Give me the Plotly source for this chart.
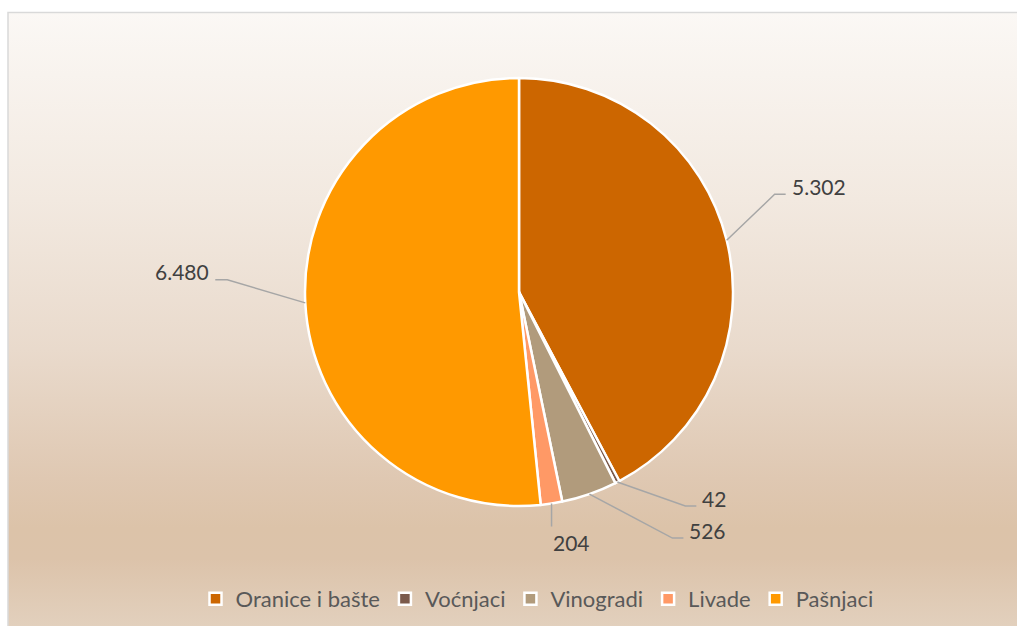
import base64
import math
import plotly.graph_objects as go

# ---- data ----
categories = ["Oranice i bašte", "Voćnjaci", "Vinogradi", "Livade", "Pašnjaci"]
values = [5302, 42, 526, 204, 6480]
colors = ["#CC6600", "#7B5A4B", "#B19B7C", "#FF9966", "#FF9900"]

# ---- layout constants (page pixels) ----
W, H = 1017, 626
OFF = 0  # body margin removed via post_script
CX, CY, R = 519, 292, 214
# leader-line geometry per slice: elbow offset from slice edge, then horizontal tail
elbow_dx = [48, 68, 83, 0, -78]
elbow_dy = [-46, 24, 44, 23, -23]
tail_len = [11, 11, 11, 0, -12]

def px(x):
    return (x - OFF) / W

def py(y):
    return 1 - (y - OFF) / H

fig = go.Figure()
fig.add_trace(go.Pie(
    labels=categories,
    values=values,
    sort=False,
    direction="clockwise",
    rotation=0,
    textinfo="none",
    hoverinfo="label+value",
    marker=dict(colors=colors, line=dict(color="#FFFFFF", width=2.5)),
    domain=dict(x=[px(CX - R), px(CX + R)], y=[py(CY + R), py(CY - R)]),
    showlegend=True,
))

# ---- data labels with leader lines, placed from the slice angles ----
total = sum(values)
cum = 0
shapes = []
annotations = []
for i, v in enumerate(values):
    mid = 2 * math.pi * (cum + v / 2) / total
    cum += v
    ex = CX + R * math.sin(mid)
    ey = CY - R * math.cos(mid)
    bx = ex + elbow_dx[i]
    by = ey + elbow_dy[i]
    tx = bx + tail_len[i]
    shapes.append(dict(
        type="path", xref="paper", yref="paper",
        path=f"M{px(ex)},{py(ey)} L{px(bx)},{py(by)} L{px(tx)},{py(by)}",
        line=dict(color="#A6A6A6", width=1.5), layer="above",
    ))
    label = f"{v:,}".replace(",", ".")
    if tail_len[i] > 0:
        ann = dict(x=px(tx + 4), y=py(by - 8), xanchor="left", yanchor="middle")
    elif tail_len[i] < 0:
        ann = dict(x=px(tx - 4), y=py(by - 8), xanchor="right", yanchor="middle")
    else:
        ann = dict(x=px(tx - 1), y=py(by + 1), xanchor="left", yanchor="top")
    ann.update(xref="paper", yref="paper", text=label, showarrow=False,
               font=dict(family="Lato", size=21, color="#404040"))
    annotations.append(ann)

# ---- gradient chart-area background with border ----
svg = f'''<svg xmlns="http://www.w3.org/2000/svg" width="{W}" height="{H}" viewBox="0 0 {W} {H}" preserveAspectRatio="none">
<defs><linearGradient id="g" gradientUnits="userSpaceOnUse" x1="0" y1="12" x2="0" y2="626">
<stop offset="0" stop-color="#FBF8F5"/>
<stop offset="0.306" stop-color="#F2E9E0"/>
<stop offset="0.55" stop-color="#E9DACC"/>
<stop offset="0.76" stop-color="#DFC8B2"/>
<stop offset="0.84" stop-color="#DCC3A9"/>
<stop offset="0.89" stop-color="#DCC3AA"/>
<stop offset="1" stop-color="#E2D0BD"/>
</linearGradient></defs>
<rect x="8" y="12.5" width="1020" height="650" fill="url(#g)" stroke="#D9D9D9" stroke-width="1.5"/>
</svg>'''
src = "data:image/svg+xml;base64," + base64.b64encode(svg.encode()).decode()

fig.update_layout(
    width=W, height=H,
    margin=dict(l=0, r=0, t=0, b=0),
    paper_bgcolor="#FFFFFF",
    font=dict(family="Lato", color="#595959"),
    images=[dict(source=src, xref="paper", yref="paper", x=0, y=1,
                 sizex=1, sizey=1, sizing="stretch", xanchor="left",
                 yanchor="top", layer="below")],
    shapes=shapes,
    annotations=annotations,
    legend=dict(orientation="h", x=px(537), xanchor="center", y=py(599),
                yanchor="middle", font=dict(family="Lato", size=22, color="#595959"),
                bgcolor="rgba(0,0,0,0)", itemwidth=30, traceorder="normal"),
)

fig.write_html(
    "out.html",
    config={"displayModeBar": False},
    post_script="document.body.style.margin='0';document.body.style.overflow='hidden';",
)
